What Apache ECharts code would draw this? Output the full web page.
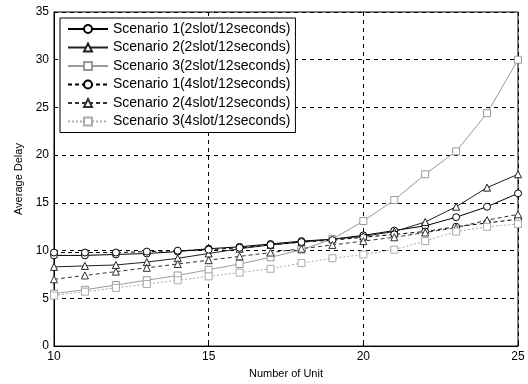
<!DOCTYPE html>
<html>
<head>
<meta charset="utf-8">
<script src="https://cdn.jsdelivr.net/npm/echarts@6/dist/echarts.min.js"></script>
<style>
  html, body { margin: 0; padding: 0; background: #fff; }
  #chart { width: 528px; height: 384px; }
</style>
</head>
<body>
<div id="chart"></div>
<script>
// x: number of unit
var units = [10, 11, 12, 13, 14, 15, 16, 17, 18, 19, 20, 21, 22, 23, 24, 25]

// average delay
var s1Slot2 = [9.5, 9.5, 9.6, 9.7, 9.9, 10.2, 10.4, 10.7, 11.0, 11.2, 11.6, 12.1, 12.6, 13.5, 14.6, 16.0]
var s2Slot2 = [8.3, 8.4, 8.5, 8.8, 9.2, 9.7, 10.2, 10.6, 10.9, 11.2, 11.5, 12.0, 13.0, 14.6, 16.6, 18.0]
var s3Slot2 = [5.5, 5.9, 6.4, 6.9, 7.4, 8.0, 8.6, 9.3, 10.1, 11.2, 13.1, 15.3, 18.0, 20.4, 24.4, 30.0]
var s1Slot4 = [9.8, 9.8, 9.8, 9.9, 10.0, 10.1, 10.3, 10.6, 10.9, 11.1, 11.4, 11.7, 12.0, 12.5, 12.9, 13.3]
var s2Slot4 = [7.0, 7.4, 7.8, 8.2, 8.6, 9.0, 9.4, 9.8, 10.2, 10.6, 11.0, 11.4, 11.9, 12.4, 13.2, 13.8]
var s3Slot4 = [5.3, 5.7, 6.1, 6.5, 6.9, 7.3, 7.7, 8.1, 8.7, 9.2, 9.6, 10.1, 11.0, 12.0, 12.5, 12.8]

var names = [
  'Scenario 1(2slot/12seconds)',
  'Scenario 2(2slot/12seconds)',
  'Scenario 3(2slot/12seconds)',
  'Scenario 1(4slot/12seconds)',
  'Scenario 2(4slot/12seconds)',
  'Scenario 3(4slot/12seconds)'
]

var font = 'Liberation Sans, Arial, sans-serif'

function pairs(vals) {
  return units.map(function (u, i) { return [u, vals[i]] })
}

function makeSeries(name, vals, symbol, color, type) {
  return {
    name: name,
    type: 'line',
    data: pairs(vals),
    symbol: symbol,
    symbolSize: 7,
    showSymbol: true,
    lineStyle: { color: color, width: 1, type: type },
    itemStyle: { color: '#fff', borderColor: color, borderWidth: 1 },
    emphasis: { disabled: true },
    animation: false
  }
}

var chart = echarts.init(document.getElementById('chart'))

chart.setOption({
  backgroundColor: '#fff',
  textStyle: { fontFamily: font },
  grid: {
    left: 54, right: 10, top: 12, bottom: 36,
    show: true, borderColor: '#000', borderWidth: 1, backgroundColor: 'transparent'
  },
  legend: {
    left: 60, top: 18,
    orient: 'vertical',
    itemWidth: 40, itemHeight: 10, itemGap: 4.5,
    padding: [4, 5, 4, 7],
    backgroundColor: '#fff',
    borderColor: '#000', borderWidth: 1,
    textStyle: { fontFamily: font, fontSize: 14, color: '#000' },
    data: names
  },
  xAxis: {
    type: 'value',
    min: 10, max: 25, interval: 5,
    name: 'Number of Unit',
    nameLocation: 'middle', nameGap: 20,
    nameTextStyle: { fontFamily: font, fontSize: 11, color: '#000' },
    axisLine: { lineStyle: { color: '#000' } },
    axisTick: { inside: true, length: 4, lineStyle: { color: '#000' } },
    axisLabel: { color: '#000', fontSize: 12, fontFamily: font, margin: 5 },
    splitLine: { show: true, lineStyle: { color: '#000', type: [4, 4], width: 1 } }
  },
  yAxis: {
    type: 'value',
    min: 0, max: 35, interval: 5,
    name: 'Average Delay',
    nameLocation: 'middle', nameGap: 30,
    nameTextStyle: { fontFamily: font, fontSize: 11, color: '#000' },
    axisLine: { show: true, lineStyle: { color: '#000' } },
    axisTick: { show: true, inside: true, length: 4, lineStyle: { color: '#000' } },
    axisLabel: { color: '#000', fontSize: 12, fontFamily: font, margin: 5 },
    splitLine: { show: true, lineStyle: { color: '#000', type: [4, 4], width: 1 } }
  },
  series: [
    makeSeries(names[0], s1Slot2, 'circle', '#000', 'solid'),
    makeSeries(names[1], s2Slot2, 'triangle', '#222', 'solid'),
    makeSeries(names[2], s3Slot2, 'rect', '#999', 'solid'),
    makeSeries(names[3], s1Slot4, 'circle', '#000', [4, 3]),
    makeSeries(names[4], s2Slot4, 'triangle', '#333', [4, 3]),
    makeSeries(names[5], s3Slot4, 'rect', '#aaa', [2, 2])
  ]
})
</script>
</body>
</html>
